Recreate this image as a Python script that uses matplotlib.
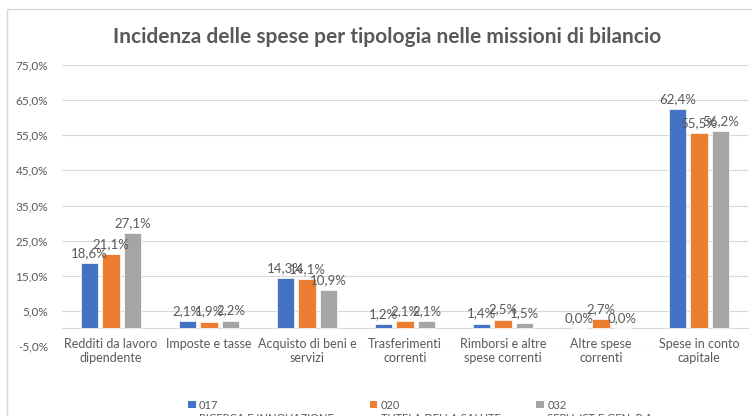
import numpy as np
import matplotlib.pyplot as plt
from matplotlib.patches import Patch, Rectangle
from matplotlib.legend_handler import HandlerPatch

# Dati
categorie = ['Redditi da lavoro\ndipendente', 'Imposte e tasse', 'Acquisto di beni e\nservizi',
             'Trasferimenti\ncorrenti', 'Rimborsi e altre\nspese correnti', 'Altre spese\ncorrenti',
             'Spese in conto\ncapitale']
serie_017 = [18.6, 2.1, 14.3, 1.2, 1.4, 0.0, 62.4]
serie_020 = [21.1, 1.9, 14.1, 2.1, 2.5, 2.7, 55.5]
serie_032 = [27.1, 2.2, 10.9, 2.1, 1.5, 0.0, 56.2]
nomi_serie = ['017\nRICERCA E INNOVAZIONE', '020\nTUTELA DELLA SALUTE', '032\nSERV. IST E GEN. P.A.']
colori = ['#4472C4', '#ED7D31', '#A5A5A5']
y_ticks = [-5, 5, 15, 25, 35, 45, 55, 65, 75]

plt.rcParams['font.family'] = ['Lato', 'DejaVu Sans']
grigio = '#595959'

fig = plt.figure(figsize=(7.52, 4.16), dpi=100)
fig.patches.append(Rectangle((7 / 752, -0.1), 1.1, 1 - 9 / 416 + 0.1, transform=fig.transFigure,
                             facecolor='none', edgecolor='#d9d9d9', linewidth=1))
ax = fig.add_axes([62 / 752, 1 - 346 / 416, (748 - 62) / 752, (346 - 65) / 416])

x = np.arange(len(categorie))
larghezza = 0.175
passo = 0.22
for i, (valori, col) in enumerate(zip([serie_017, serie_020, serie_032], colori)):
    pos = x + (i - 1) * passo
    ax.bar(pos, valori, width=larghezza, color=col, edgecolor='white', linewidth=0.5, zorder=3)
    for p, v in zip(pos, valori):
        ax.annotate(f'{v:.1f}%'.replace('.', ','), (p, v), xytext=(0, 3), textcoords='offset points',
                    ha='center', va='bottom', fontsize=9.5, color=grigio, zorder=4)

ax.set_xlim(-0.5, len(categorie) - 0.5)
ax.set_ylim(-5, 75)
ax.set_yticks(y_ticks)
ax.set_yticklabels([f'{t:.1f}%'.replace('.', ',') for t in y_ticks])
ax.set_xticks(x)
ax.set_xticklabels(categorie, linespacing=1.4)
ax.tick_params(axis='both', length=0, labelcolor=grigio)
ax.tick_params(axis='y', pad=10, labelsize=8.5)
ax.tick_params(axis='x', pad=7, labelsize=9)
for s in ['top', 'right', 'left']:
    ax.spines[s].set_visible(False)
ax.spines['bottom'].set_position(('data', 0))
ax.spines['bottom'].set_color('#d9d9d9')
ax.yaxis.grid(True, color='#d9d9d9', linewidth=0.8, zorder=0)
ax.set_axisbelow(True)

fig.text(0.515, 1 - 37 / 416, 'Incidenza delle spese per tipologia nelle missioni di bilancio',
         ha='center', va='center', fontsize=15, fontweight='bold', color=grigio)


# quadratino della legenda allineato alla prima riga del testo
def quadrato_in_alto(legend, orig_handle, xdescent, ydescent, width, height, fontsize):
    lato = 0.7 * fontsize
    return Rectangle((-xdescent, -ydescent + height - lato + 0.25 * fontsize), lato, lato)


handles = [Patch(facecolor=c) for c in colori]
fig.legend(handles, nomi_serie, loc='upper left', bbox_to_anchor=(188 / 752, 1 - 400 / 416), ncol=3,
           frameon=False, fontsize=8, labelcolor=grigio, handlelength=0.7, handleheight=2.3,
           handletextpad=0.3, columnspacing=3.2, borderpad=0, borderaxespad=0, labelspacing=0,
           handler_map={Patch: HandlerPatch(patch_func=quadrato_in_alto)})

fig.savefig('out.png', dpi=100)
